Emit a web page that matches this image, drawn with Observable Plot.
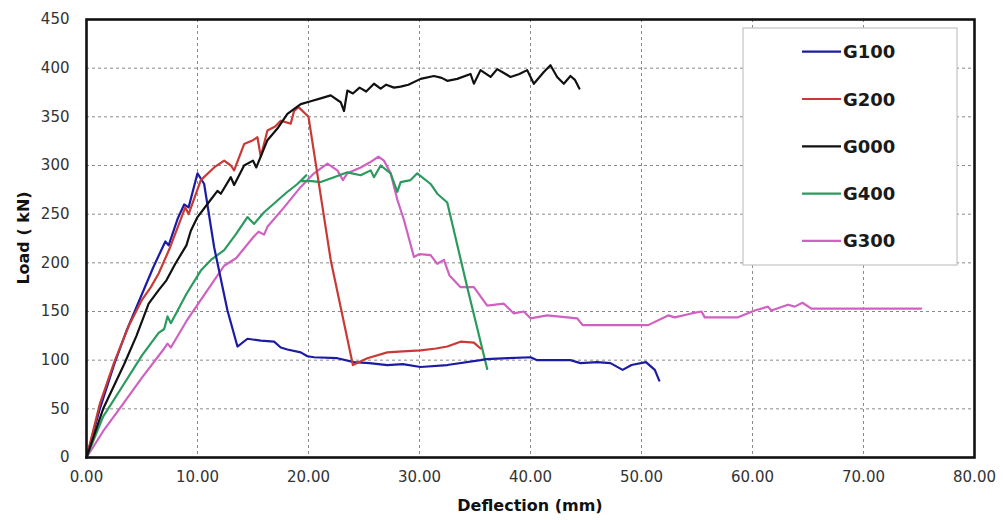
<!DOCTYPE html>
<html>
<head>
<meta charset="utf-8">
<script src="https://cdn.jsdelivr.net/npm/d3@7"></script>
<script src="https://cdn.jsdelivr.net/npm/@observablehq/plot@0.6"></script>
<style>
  body { margin: 0; background: #fff; }
  #chart { width: 1003px; height: 520px; }
</style>
</head>
<body>
<div id="chart"></div>
<script>
// Load–deflection curves of the five beams
const seriesNames = ["G100", "G200", "G000", "G400", "G300"];
const seriesColors = ["#1c1ca3", "#c93a36", "#111111", "#2a9a5e", "#cf62c0"];

const g100X = [0, 1.2, 2.5, 3.6, 5.0, 6.0, 7.1, 7.4, 8.2, 8.8, 9.2, 10.0, 10.6, 11.5, 12.7, 13.6, 14.5, 15.7, 16.9, 17.5, 18.1, 19.3, 19.9, 20.5, 22.6, 24.1, 25.5, 27.1, 28.5, 30.1, 32.5, 35.5, 36.0, 38.0, 40.0, 40.6, 43.6, 44.5, 46.0, 47.2, 48.3, 49.1, 50.4, 51.2, 51.6];
const g100Y = [0, 50, 96, 130, 168, 195, 222, 218, 245, 260, 257, 292, 281, 216, 151, 114, 122, 120, 119, 113, 111, 108, 104, 103, 102, 98, 97, 95, 96, 93, 95, 100, 101, 102, 103, 100, 100, 97, 98, 97, 90, 95, 98, 90, 79];

const g200X = [0, 1.2, 2.5, 3.8, 5.0, 5.8, 6.5, 7.5, 8.9, 9.2, 10.3, 11.5, 12.4, 13.0, 13.3, 14.2, 15.0, 15.4, 15.7, 16.3, 17.0, 17.5, 18.4, 18.7, 19.1, 20.0, 22.0, 24.0, 25.3, 27.1, 28.5, 30.1, 31.5, 32.5, 33.7, 34.9, 35.5];
const g200Y = [0, 55, 98, 135, 162, 175, 189, 215, 257, 250, 285, 298, 305, 300, 295, 322, 326, 329, 309, 336, 340, 346, 343, 356, 360, 350, 203, 95, 102, 108, 109, 110, 112, 114, 119, 118, 112];

const g000X = [0, 1.5, 3.4, 4.5, 5.6, 6.5, 7.2, 8.0, 9.0, 9.4, 10.0, 11.0, 11.8, 12.1, 13.0, 13.3, 14.2, 15.0, 15.3, 16.3, 17.2, 18.1, 19.3, 20.2, 21.1, 22.0, 22.9, 23.2, 23.5, 24.0, 24.6, 25.2, 25.9, 26.5, 27.0, 27.7, 28.3, 29.0, 30.1, 31.3, 32.0, 32.5, 33.4, 34.6, 34.9, 35.5, 36.4, 37.0, 37.6, 38.2, 39.0, 39.7, 40.3, 41.2, 41.8, 42.4, 43.0, 43.6, 44.0, 44.4];
const g000Y = [0, 50, 96, 125, 158, 172, 182, 199, 218, 233, 247, 262, 274, 271, 288, 280, 300, 305, 298, 326, 338, 353, 363, 366, 369, 372, 365, 356, 377, 374, 380, 376, 384, 379, 383, 380, 381, 383, 389, 392, 390, 387, 389, 394, 384, 398, 391, 399, 395, 391, 394, 398, 384, 396, 403, 391, 384, 392, 388, 379];

const g400X = [0, 1.5, 3.4, 5.0, 6.5, 7.0, 7.3, 7.6, 9.0, 10.3, 11.2, 12.4, 13.5, 14.5, 15.1, 16.0, 16.9, 18.0, 19.0, 19.8, 19.3, 20.3, 21.1, 22.3, 23.5, 24.7, 25.6, 25.9, 26.5, 27.4, 28.0, 28.3, 29.2, 29.8, 31.0, 31.6, 32.5, 34.3, 36.1];
const g400Y = [0, 42, 76, 105, 128, 132, 145, 138, 168, 192, 203, 213, 230, 247, 240, 252, 261, 272, 281, 290, 284, 284, 283, 288, 293, 290, 295, 288, 300, 292, 273, 283, 285, 292, 281, 271, 262, 175, 91];

const g300X = [0, 1.5, 3.1, 5.0, 7.0, 7.3, 7.6, 9.0, 10.3, 11.5, 12.4, 13.5, 15.0, 15.5, 16.0, 16.3, 17.8, 19.3, 20.5, 21.7, 22.6, 23.1, 23.5, 24.7, 25.5, 26.3, 26.8, 27.4, 28.0, 28.6, 29.5, 30.0, 31.0, 31.6, 32.2, 32.7, 33.7, 34.9, 36.1, 37.6, 38.5, 39.4, 40.0, 41.5, 44.2, 44.7, 50.6, 52.4, 53.0, 54.5, 55.4, 55.7, 58.7, 60.2, 61.4, 61.7, 63.2, 63.8, 64.5, 65.3, 75.2];
const g300Y = [0, 27, 52, 82, 112, 117, 113, 140, 162, 182, 197, 205, 226, 232, 229, 237, 257, 278, 292, 302, 295, 285, 292, 298, 303, 309, 305, 292, 265, 244, 206, 209, 208, 199, 203, 187, 175, 175, 156, 158, 148, 150, 143, 146, 143, 136, 136, 146, 144, 148, 150, 144, 144, 151, 155, 151, 157, 155, 159, 153, 153];

const xTicks = [0, 10, 20, 30, 40, 50, 60, 70, 80];
const yTicks = [0, 50, 100, 150, 200, 250, 300, 350, 400, 450];

const seriesData = {
  G100: [g100X, g100Y],
  G200: [g200X, g200Y],
  G000: [g000X, g000Y],
  G400: [g400X, g400Y],
  G300: [g300X, g300Y]
};
const rows = seriesNames.flatMap(name => {
  const [xs, ys] = seriesData[name];
  return xs.map((x, i) => ({series: name, x, y: ys[i]}));
});
const colorOf = Object.fromEntries(seriesNames.map((n, i) => [n, seriesColors[i]]));

// drawing order: pink and green first, then blue, red and black
const drawOrder = ["G300", "G400", "G100", "G200", "G000"];

const W = 1003, H = 520;
const M = {left: 86, right: 29, top: 19, bottom: 63};

const chart = Plot.plot({
  width: W,
  height: H,
  marginLeft: M.left,
  marginRight: M.right,
  marginTop: M.top,
  marginBottom: M.bottom,
  style: {fontFamily: "'DejaVu Sans', sans-serif", fontSize: "15px", color: "#333", background: "#fff"},
  x: {domain: [0, 80]},
  y: {domain: [0, 450]},
  marks: [
    Plot.gridX(xTicks.slice(1, -1), {stroke: "#8a8a8a", strokeOpacity: 1, strokeDasharray: "3,3"}),
    Plot.gridY(yTicks.slice(1, -1), {stroke: "#8a8a8a", strokeOpacity: 1, strokeDasharray: "3,3"}),
    ...drawOrder.map(name => Plot.line(rows.filter(d => d.series === name), {
      x: "x", y: "y", stroke: colorOf[name], strokeWidth: 2.2, curve: "linear"
    })),
    Plot.frame({stroke: "#111", strokeWidth: 2.6}),
    Plot.axisX(xTicks, {tickFormat: d3.format(".2f"), tickSize: 0, tickPadding: 14, fontSize: 15, label: null}),
    Plot.axisY(yTicks, {tickSize: 0, tickPadding: 17, fontSize: 15, label: null})
  ]
});

document.getElementById("chart").appendChild(chart);

const svg = d3.select(chart);

// axis titles
svg.append("text")
  .attr("transform", `translate(23, ${(M.top + H - M.bottom) / 2}) rotate(-90)`)
  .attr("text-anchor", "middle")
  .attr("dominant-baseline", "central")
  .attr("font-family", "'DejaVu Sans', sans-serif")
  .attr("font-weight", "bold")
  .attr("font-size", 16)
  .attr("fill", "#111")
  .text("Load ( kN)");

svg.append("text")
  .attr("x", (M.left + W - M.right) / 2)
  .attr("y", 511)
  .attr("text-anchor", "middle")
  .attr("font-family", "'DejaVu Sans', sans-serif")
  .attr("font-weight", "bold")
  .attr("font-size", 16)
  .attr("fill", "#111")
  .text("Deflection (mm)");

// legend box inside the upper-right corner of the plot
const legend = svg.append("g");
legend.append("rect")
  .attr("x", 743).attr("y", 28).attr("width", 214).attr("height", 237)
  .attr("fill", "#fff").attr("stroke", "#c4c4c4").attr("stroke-width", 1.2);
const legendTop = 51.7, legendStep = 47.3;
seriesNames.forEach((name, i) => {
  const y = legendTop + i * legendStep;
  legend.append("line")
    .attr("x1", 802).attr("x2", 841).attr("y1", y).attr("y2", y)
    .attr("stroke", colorOf[name]).attr("stroke-width", 2.2);
  legend.append("text")
    .attr("x", 843).attr("y", y)
    .attr("text-anchor", "start")
    .attr("dominant-baseline", "central")
    .attr("font-family", "'DejaVu Sans', sans-serif")
    .attr("font-weight", "bold")
    .attr("font-size", 18)
    .attr("fill", "#1a1a1a")
    .text(name);
});
</script>
</body>
</html>
